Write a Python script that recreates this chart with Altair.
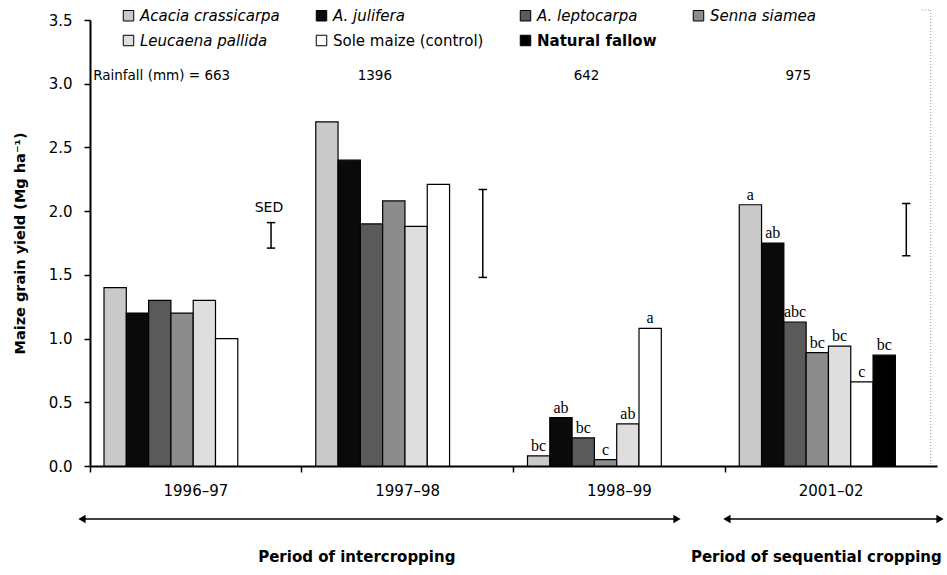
import altair as alt
import pandas as pd

# Seasons and treatments
years = ["1996–97", "1997–98", "1998–99", "2001–02"]
species = [
    "Acacia crassicarpa", "A. julifera", "A. leptocarpa", "Senna siamea",
    "Leucaena pallida", "Sole maize (control)", "Natural fallow",
]

# Maize grain yield (Mg/ha) per treatment, one value per season
acacia_crassicarpa = [1.40, 2.70, 0.08, 2.05]
a_julifera = [1.20, 2.40, 0.38, 1.75]
a_leptocarpa = [1.30, 1.90, 0.22, 1.13]
senna_siamea = [1.20, 2.08, 0.05, 0.89]
leucaena_pallida = [1.30, 1.88, 0.33, 0.94]
sole_maize = [1.00, 2.21, 1.08, 0.66]
natural_fallow = [None, None, None, 0.87]

# Mean-separation letters (only tested in the last two seasons)
letters_1998 = ["bc", "ab", "bc", "c", "ab", "a", None]
letters_2001 = ["a", "ab", "abc", "bc", "bc", "c", "bc"]

# Seasonal rainfall (mm)
rainfall = [663, 1396, 642, 975]

# SED bars (low, high ends)
sed_low = [1.71, 1.48, None, 1.65]
sed_high = [1.91, 2.17, None, 2.06]

fills = ["#c9c9c9", "#0a0a0a", "#5a5a5a", "#8c8c8c", "#dedede", "#ffffff", "#000000"]

series = [acacia_crassicarpa, a_julifera, a_leptocarpa, senna_siamea,
          leucaena_pallida, sole_maize, natural_fallow]

rows = []
for sp, vals in zip(species, series):
    for yr, v in zip(years, vals):
        rows.append({"year": yr, "species": sp, "yield": v})
bars_df = pd.DataFrame(rows).dropna()

letter_rows = []
for yr, lets in (("1998–99", letters_1998), ("2001–02", letters_2001)):
    yi = years.index(yr)
    for sp, vals, lt in zip(species, series, lets):
        if lt is not None and vals[yi] is not None:
            letter_rows.append({"year": yr, "species": sp, "yield": vals[yi], "letter": lt})
letters_df = pd.DataFrame(letter_rows)

rain_df = pd.DataFrame({"year": years, "rain": rainfall})
rain_first = rain_df.iloc[:1].assign(label=lambda d: "Rainfall (mm) = " + d["rain"].astype(str))
rain_rest = rain_df.iloc[1:].assign(label=lambda d: d["rain"].astype(str))

sed_df = pd.DataFrame({"year": years, "lo": sed_low, "hi": sed_high}).dropna()
sed_caps = pd.concat([
    sed_df[["year", "lo"]].rename(columns={"lo": "v"}),
    sed_df[["year", "hi"]].rename(columns={"hi": "v"}),
])

W, H = 847, 446
SANS = "DejaVu Sans"

x_scale = alt.Scale(domain=years, paddingInner=0, paddingOuter=0)
# one spare slot after the seven treatments leaves room for the SED bar
xoff_scale = alt.Scale(domain=species + ["_gap"], paddingInner=0, paddingOuter=0.7475, align=0.42)
y_scale = alt.Scale(domain=[0, 3.5], nice=False)

x_axis = alt.Axis(
    title=None, bandPosition=0, labelAngle=0,
    tickSize=6, tickWidth=1.5, tickColor="black",
    domainColor="black", domainWidth=2,
    labelFont=SANS, labelFontSize=15, labelColor="black", labelPadding=11,
)
y_axis = alt.Axis(
    title="Maize grain yield (Mg ha⁻¹)", values=[0, 0.5, 1, 1.5, 2, 2.5, 3, 3.5],
    format=".1f", grid=False,
    tickSize=6, tickWidth=1.5, tickColor="black",
    domainColor="black", domainWidth=2,
    labelFont=SANS, labelFontSize=15, labelColor="black", labelPadding=12,
    titleFont=SANS, titleFontSize=14.5, titleFontWeight="bold", titleColor="black",
    titlePadding=21,
)

legend = alt.Legend(
    title=None, orient="none", direction="horizontal", legendX=31, legendY=-12, columns=4,
    columnPadding=34, rowPadding=9,
    symbolType="square", symbolSize=110, symbolStrokeColor="black", symbolStrokeWidth=1,
    labelFont=SANS, labelFontSize=15, labelColor="black", labelOffset=4, labelLimit=220,
    labelFontStyle=alt.ExprRef(
        expr="datum.value == 'Sole maize (control)' || datum.value == 'Natural fallow' ? 'normal' : 'italic'"
    ),
    labelFontWeight=alt.ExprRef(expr="datum.value == 'Natural fallow' ? 'bold' : 'normal'"),
    padding=0,
)

bars = alt.Chart(bars_df).mark_bar(stroke="black", strokeWidth=1.2).encode(
    x=alt.X("year:N", scale=x_scale, axis=x_axis),
    xOffset=alt.XOffset("species:N", scale=xoff_scale),
    y=alt.Y("yield:Q", scale=y_scale, axis=y_axis),
    fill=alt.Fill("species:N", scale=alt.Scale(domain=species, range=fills), legend=legend),
)

letters = alt.Chart(letters_df).mark_text(
    font="Liberation Serif", fontSize=16, baseline="bottom", dy=-2, color="black"
).encode(
    x=alt.X("year:N", scale=x_scale),
    xOffset=alt.XOffset("species:N", scale=xoff_scale),
    y=alt.Y("yield:Q", scale=y_scale),
    text="letter:N",
)

rain_a = alt.Chart(rain_first).mark_text(
    font=SANS, fontSize=13.5, align="left", baseline="middle", color="black"
).encode(
    x=alt.X("year:N", scale=x_scale, bandPosition=0.015),
    y=alt.value(56),
    text="label:N",
)
rain_b = alt.Chart(rain_rest).mark_text(
    font=SANS, fontSize=13.5, align="center", baseline="middle", color="black"
).encode(
    x=alt.X("year:N", scale=x_scale, bandPosition=0.345),
    y=alt.value(56),
    text="label:N",
)

SED_POS = 0.855
sed_rule = alt.Chart(sed_df).mark_rule(color="black", strokeWidth=1.5).encode(
    x=alt.X("year:N", scale=x_scale, bandPosition=SED_POS),
    y=alt.Y("lo:Q", scale=y_scale),
    y2="hi:Q",
)
sed_cap = alt.Chart(sed_caps).mark_point(
    shape="stroke", size=70, filled=False, stroke="black", strokeWidth=1.5, opacity=1
).encode(
    x=alt.X("year:N", scale=x_scale, bandPosition=SED_POS),
    y=alt.Y("v:Q", scale=y_scale),
)
sed_label = alt.Chart(sed_df.iloc[:1].assign(t="SED")).mark_text(
    font=SANS, fontSize=14, baseline="bottom", dy=-8, color="black"
).encode(
    x=alt.X("year:N", scale=x_scale, bandPosition=SED_POS - 0.01),
    y=alt.Y("hi:Q", scale=y_scale),
    text="t:N",
)

# Right-hand dotted frame edge with its short top corner
frame_df = pd.DataFrame({"year": [years[-1]]})
frame = alt.Chart(frame_df).mark_rule(color="#999999", strokeWidth=1, strokeDash=[1, 2]).encode(
    x=alt.X("year:N", scale=x_scale, bandPosition=0.97),
    y=alt.value(-10),
    y2=alt.value(H),
)
frame_corner = alt.Chart(frame_df).mark_rule(color="#999999", strokeWidth=1, strokeDash=[1, 2]).encode(
    x=alt.X("year:N", scale=x_scale, bandPosition=0.93),
    x2=alt.X2("year:N", bandPosition=0.97),
    y=alt.value(-10),
)

# Period arrows and captions beneath the axis
periods = ["Period of intercropping", "Period of sequential cropping"]
period_from = ["1996–97", "2001–02"]
period_to = ["1998–99", "2001–02"]
from_pos = [0.0, 0.008]
from_shift = [-8, 0]
to_pos = [0.772, 1.0]
to_shift = [0, 3]
caption_year = ["1997–98", "2001–02"]
caption_pos = [0.26, 0.43]

ARROW_Y = 499
period_layers = []
for name, a, b, pa, sa, pb, sb, cy, cp in zip(periods, period_from, period_to, from_pos, from_shift,
                                              to_pos, to_shift, caption_year, caption_pos):
    d = pd.DataFrame({"a": [a], "b": [b], "c": [cy], "name": [name]})
    period_layers.append(
        alt.Chart(d).mark_rule(color="black", strokeWidth=1.6, xOffset=sa, x2Offset=sb).encode(
            x=alt.X("a:N", scale=x_scale, bandPosition=pa),
            x2=alt.X2("b:N", bandPosition=pb),
            y=alt.value(ARROW_Y),
        )
    )
    period_layers.append(
        alt.Chart(d).mark_point(shape="triangle-left", size=70, filled=True, color="black",
                                opacity=1, xOffset=sa).encode(
            x=alt.X("a:N", scale=x_scale, bandPosition=pa),
            y=alt.value(ARROW_Y),
        )
    )
    period_layers.append(
        alt.Chart(d).mark_point(shape="triangle-right", size=70, filled=True, color="black",
                                opacity=1, xOffset=sb).encode(
            x=alt.X("b:N", scale=x_scale, bandPosition=pb),
            y=alt.value(ARROW_Y),
        )
    )
    period_layers.append(
        alt.Chart(d).mark_text(font=SANS, fontSize=15, fontWeight="bold", color="black").encode(
            x=alt.X("c:N", scale=x_scale, bandPosition=cp),
            y=alt.value(537),
            text="name:N",
        )
    )

chart = alt.layer(
    bars, letters, rain_a, rain_b, sed_rule, sed_cap, sed_label, frame, frame_corner, *period_layers
).properties(
    width=W, height=H,
    autosize=alt.AutoSizeParams(type="none"),
    padding={"left": 90, "top": 20, "right": 10, "bottom": 109},
    background="white",
).configure_view(stroke=None)

chart.save("out.html", embed_options={"renderer": "svg", "actions": False})
